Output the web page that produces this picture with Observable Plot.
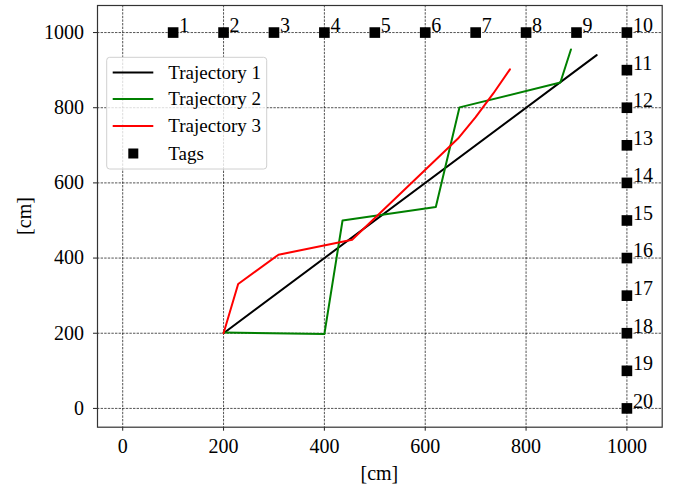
<!DOCTYPE html>
<html>
<head>
<meta charset="utf-8">
<script src="https://cdn.jsdelivr.net/npm/d3@7"></script>
<script src="https://cdn.jsdelivr.net/npm/@observablehq/plot@0.6"></script>
<style>
  html, body { margin: 0; padding: 0; background: #fff; }
  #chart { position: relative; width: 677px; height: 487px; }
  #chart svg, #chart svg text { font-family: "Liberation Serif", serif !important; }
</style>
</head>
<body>
<div id="chart"></div>
<script>
const traj1X = [200, 940];
const traj1Y = [200, 940];
const traj2X = [200, 400, 436, 621, 668, 868, 889];
const traj2Y = [202, 198, 500, 536, 801, 867, 955];
const traj3X = [200, 229, 309, 455, 665, 700, 735, 768];
const traj3Y = [200, 331, 409, 449, 718, 775, 838, 902];
const tagX = [100, 200, 300, 400, 500, 600, 700, 800, 900, 1000, 1000, 1000, 1000, 1000, 1000, 1000, 1000, 1000, 1000, 1000];
const tagY = [1000, 1000, 1000, 1000, 1000, 1000, 1000, 1000, 1000, 1000, 900, 800, 700, 600, 500, 400, 300, 200, 100, 0];
const tagLabels = ["1","2","3","4","5","6","7","8","9","10","11","12","13","14","15","16","17","18","19","20"];
const tickValues = [0, 200, 400, 600, 800, 1000];
const seriesNames = ["Trajectory 1", "Trajectory 2", "Trajectory 3"];
const seriesColors = ["#000000", "#008000", "#ff0000"];
const axisLabel = "[cm]";

const toRows = (xs, ys) => xs.map((x, i) => ({x, y: ys[i]}));
const trajs = [toRows(traj1X, traj1Y), toRows(traj2X, traj2Y), toRows(traj3X, traj3Y)];
const tags = tagX.map((x, i) => ({x, y: tagY[i], label: tagLabels[i]}));

const font = "Liberation Serif";

const chart = Plot.plot({
  width: 677,
  height: 487,
  marginLeft: 97,
  marginRight: 15.3,
  marginTop: 5,
  marginBottom: 60.3,
  style: {fontFamily: font, fontSize: "20px", background: "#fff", color: "#000"},
  x: {domain: [-50, 1070]},
  y: {domain: [-50, 1072]},
  marks: [
    Plot.gridX(tickValues, {stroke: "#000", strokeOpacity: 0.85, strokeWidth: 0.8, strokeDasharray: "2.4,1.2"}),
    Plot.gridY(tickValues, {stroke: "#000", strokeOpacity: 0.85, strokeWidth: 0.8, strokeDasharray: "2.4,1.2"}),
    Plot.axisX({ticks: tickValues, tickFormat: d => String(d), tickSize: 4, tickPadding: 8, label: null, fontSize: 20, stroke: "#222"}),
    Plot.axisY({ticks: tickValues, tickFormat: d => String(d), tickSize: 4, tickPadding: 9.5, label: null, fontSize: 20, stroke: "#222"}),
    ...trajs.map((d, i) => Plot.line(d, {x: "x", y: "y", stroke: seriesColors[i], strokeWidth: 2})),
    Plot.dot(tags, {x: "x", y: "y", symbol: "square", r: 6, fill: "#000", stroke: "none"}),
    Plot.text(tags, {x: "x", y: "y", text: "label", textAnchor: "start", dx: 6, dy: -7, fontSize: 20, fill: "#000"}),
    Plot.frame({stroke: "#333", strokeWidth: 1.2})
  ]
});

document.getElementById("chart").appendChild(chart);

// Axis labels and legend
const svg = d3.select(chart);
svg.append("text")
  .attr("x", 379.4).attr("y", 479.5)
  .attr("text-anchor", "middle")
  .attr("font-size", 20).attr("fill", "#000")
  .text(axisLabel);
svg.append("text")
  .attr("transform", "translate(31.4,216) rotate(-90)")
  .attr("text-anchor", "middle")
  .attr("font-size", 20).attr("fill", "#000")
  .text(axisLabel);

const lg = svg.append("g").attr("text-anchor", "start");
lg.append("rect")
  .attr("x", 106.7).attr("y", 57.3).attr("width", 160).attr("height", 111.7)
  .attr("rx", 3).attr("fill", "#fff").attr("fill-opacity", 0.8)
  .attr("stroke", "#d0d0d0").attr("stroke-width", 1);
const rowY = [72.5, 99, 126, 153.5];
seriesNames.forEach((name, i) => {
  lg.append("line").attr("x1", 112.7).attr("x2", 153.3).attr("y1", rowY[i]).attr("y2", rowY[i])
    .attr("stroke", seriesColors[i]).attr("stroke-width", 2);
  lg.append("text").attr("x", 168.3).attr("y", rowY[i]).attr("dy", "0.32em")
    .attr("font-size", 19).attr("fill", "#000").text(name);
});
lg.append("rect").attr("x", 128.3).attr("y", rowY[3] - 5).attr("width", 10).attr("height", 10).attr("fill", "#000");
lg.append("text").attr("x", 168.3).attr("y", rowY[3]).attr("dy", "0.32em")
  .attr("font-size", 19).attr("fill", "#000").text("Tags");
</script>
</body>
</html>
